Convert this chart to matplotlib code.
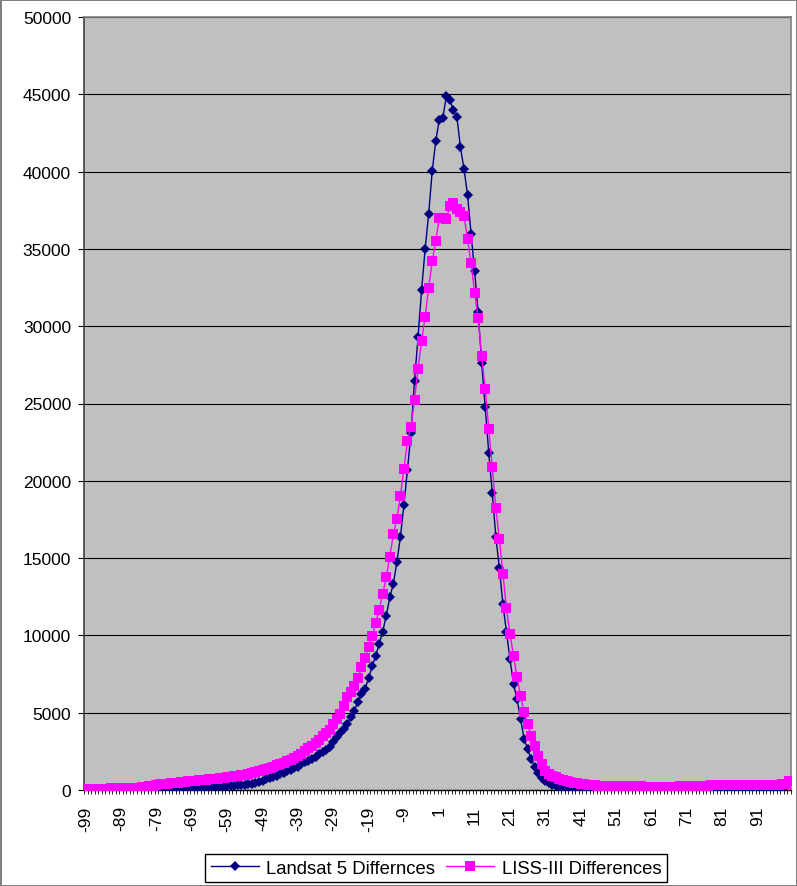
import matplotlib
matplotlib.use("Agg")
import matplotlib.pyplot as plt
from matplotlib.ticker import FixedLocator, NullFormatter

plt.rcParams['font.family'] = ['Liberation Sans', 'DejaVu Sans']

# Category axis: pixel-value differences -99 .. 100
differences = list(range(-99, 101))
tick_labels = ["-99", "-89", "-79", "-69", "-59", "-49", "-39", "-29", "-19", "-9",
               "1", "11", "21", "31", "41", "51", "61", "71", "81", "91"]
y_ticks = [0, 5000, 10000, 15000, 20000, 25000, 30000, 35000, 40000, 45000, 50000]

landsat = [
    10, 10, 10, 10, 10, 10, 10, 10, 10, 10,
    10, 10, 10, 10, 15, 15, 20, 20, 25, 30,
    30, 35, 40, 45, 50, 55, 60, 65, 70, 80,
    90, 100, 110, 120, 135, 150, 165, 180, 200, 220,
    240, 260, 280, 300, 320, 340, 370, 410, 460, 520,
    600, 680, 760, 850, 930, 1020, 1100, 1200, 1300, 1420,
    1520, 1650, 1780, 1880, 2000, 2150, 2300, 2450, 2600, 2800,
    3100, 3450, 3700, 3950, 4300, 4700, 5130, 5710, 6210, 6530,
    7220, 8000, 8650, 9440, 10240, 11270, 12460, 13320, 14730, 16360,
    18450, 20720, 23070, 26460, 29320, 32360, 34990, 37260, 40040, 41960,
    43360, 43470, 44870, 44650, 43980, 43500, 41570, 40170, 38490, 35960,
    33550, 30900, 27600, 24750, 21820, 19210, 16380, 14340, 12030, 10240,
    8470, 6860, 5890, 4590, 3300, 2650, 2000, 1500, 1100, 800,
    600, 450, 350, 280, 220, 180, 150, 120, 100, 90,
    90, 90, 85, 85, 85, 80, 80, 80, 80, 80,
    80, 80, 80, 80, 80, 80, 80, 80, 80, 80,
    80, 80, 80, 80, 80, 80, 80, 80, 80, 80,
    80, 80, 80, 80, 90, 90, 100, 100, 110, 110,
    110, 110, 110, 110, 110, 110, 110, 110, 110, 110,
    110, 110, 110, 110, 110, 120, 130, 160, 250, 450,
]

liss = [
    60, 70, 70, 80, 80, 90, 90, 100, 100, 100,
    110, 110, 120, 120, 130, 150, 170, 200, 240, 280,
    320, 360, 400, 420, 440, 460, 480, 500, 520, 550,
    580, 610, 630, 650, 670, 690, 710, 730, 750, 780,
    810, 850, 880, 920, 960, 1000, 1050, 1100, 1150, 1220,
    1300, 1380, 1450, 1520, 1600, 1680, 1760, 1850, 1950, 2080,
    2200, 2350, 2520, 2700, 2870, 3050, 3250, 3480, 3700, 3900,
    4300, 4620, 4920, 5450, 6000, 6350, 6710, 7220, 7940, 8540,
    9270, 9940, 10780, 11660, 12680, 13760, 15090, 16540, 17550, 19000,
    20760, 22570, 23480, 25250, 27250, 29060, 30600, 32500, 34200, 35500,
    36980, 37000, 36930, 37750, 37970, 37580, 37370, 37150, 35640, 34090,
    32170, 30510, 28050, 25940, 23350, 20900, 18220, 16220, 13970, 11750,
    10090, 8690, 7290, 6060, 5070, 4270, 3510, 2870, 2220, 1680,
    1250, 1050, 930, 820, 710, 630, 560, 500, 470, 450,
    400, 370, 340, 320, 300, 280, 270, 260, 250, 250,
    240, 240, 240, 230, 230, 230, 230, 230, 220, 220,
    220, 220, 220, 220, 220, 220, 220, 220, 230, 230,
    230, 230, 240, 240, 250, 260, 280, 300, 320, 330,
    330, 330, 330, 330, 330, 330, 330, 330, 330, 330,
    330, 330, 330, 330, 340, 340, 350, 370, 420, 550,
]

W, H = 797, 887
fig = plt.figure(figsize=(W / 100, H / 100), dpi=100)
fig.patch.set_facecolor('white')
fig.patch.set_edgecolor('#808080')
fig.patch.set_linewidth(2)

ax = fig.add_axes([84 / W, 1 - 791 / H, (791 - 84) / W, (791 - 18) / H])
ax.set_facecolor('#C0C0C0')

idx = list(range(len(differences)))
ax.plot(idx, landsat, color='#000080', lw=1.0, marker='D', ms=5.6,
        mfc='#000080', mec='#000080', mew=0, label='Landsat 5 Differnces', zorder=3)
ax.plot(idx, liss, color='#FF00FF', lw=1.0, marker='s', ms=6.8,
        mfc='#FF00FF', mec='#FF00FF', mew=0, label='LISS-III Differences', zorder=4)

ax.set_xlim(-0.5, len(differences) - 0.5)
ax.set_ylim(0, 50000)

ax.set_yticks(y_ticks)
ax.set_yticklabels([str(v) for v in y_ticks])
ax.yaxis.grid(True, color='black', lw=0.8)
ax.set_axisbelow(True)
ax.tick_params(axis='y', direction='out', length=4.3, width=0.8, pad=5.0,
               labelsize=12.5, color='black')

label_pos = [differences.index(int(t)) for t in tick_labels]
ax.set_xticks(label_pos)
ax.set_xticklabels(tick_labels, rotation=90, ha='center', va='top')
ax.tick_params(axis='x', which='major', length=0, pad=11, labelsize=12.5)
ax.xaxis.set_minor_locator(FixedLocator([i - 0.5 for i in range(len(differences) + 1)]))
ax.xaxis.set_minor_formatter(NullFormatter())
ax.tick_params(axis='x', which='minor', direction='out', length=3, width=0.6, color='black')

ax.spines['left'].set_color('#404040')
ax.spines['left'].set_linewidth(1.2)
ax.spines['bottom'].set_color('black')
ax.spines['bottom'].set_linewidth(1.0)
ax.spines['top'].set_color('#808080')
ax.spines['top'].set_linewidth(1.2)
ax.spines['right'].set_color('#808080')
ax.spines['right'].set_linewidth(1.2)

leg = fig.legend(loc='upper center', bbox_to_anchor=(436 / W, 1 - 855 / H),
                 ncol=2, fontsize=13.3, frameon=True, fancybox=False,
                 edgecolor='black', framealpha=1, handlelength=2.6,
                 columnspacing=0.6, handletextpad=0.4, borderpad=0.3,
                 borderaxespad=0, markerscale=1.0)
leg.get_frame().set_linewidth(1.0)

fig.savefig('out.png', dpi=100)
